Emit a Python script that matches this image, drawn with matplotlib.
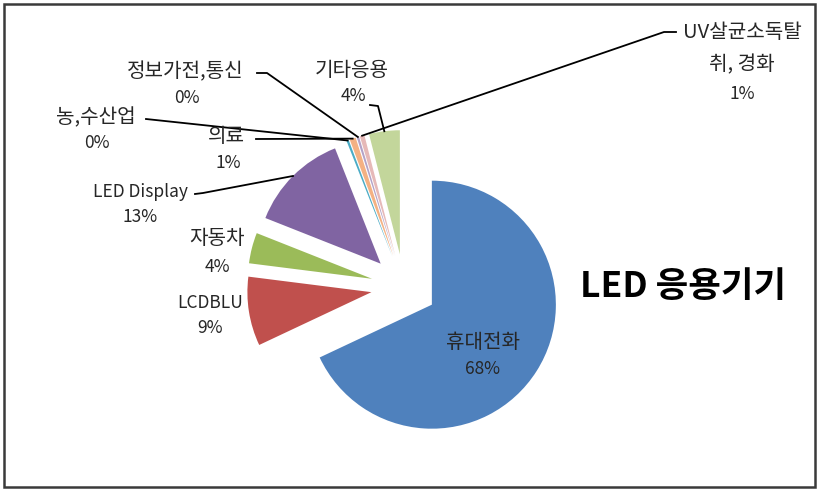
import matplotlib
matplotlib.use('Agg')
import matplotlib.pyplot as plt
from matplotlib.patches import Rectangle
import numpy as np

plt.rcParams['font.family'] = ['Noto Sans CJK KR', 'DejaVu Sans']

# data: LED application share (%), clockwise from 12 o'clock
names = ['휴대전화', 'LCDBLU', '자동차', 'LED Display', '농,수산업', '의료',
         '정보가전,통신', 'UV살균소독탈\n취, 경화', '기타응용']
shares = [68.0, 9.0, 4.0, 13.0, 0.3, 0.8, 0.3, 0.6, 4.0]
colors = ['#4F81BD', '#C0504D', '#9BBB59', '#8064A2', '#4BACC6', '#F4B183',
          '#B3A2C7', '#E6B9B8', '#C3D69B']

W, H = 819, 492
fig = plt.figure(figsize=(W / 100, H / 100), dpi=100)
ax = fig.add_axes([0, 0, 1, 1])

# pixel-like coordinates, y grows downwards -> counterclock in data is clockwise on screen
center = (404, 287)
radius = 124
wedges, _ = ax.pie(shares, colors=colors, startangle=-90, counterclock=True,
                   radius=radius, center=center, explode=[33] * len(shares),
                   wedgeprops=dict(linewidth=0))
ax.set_xlim(0, W)
ax.set_ylim(H, 0)
ax.set_aspect('equal')
ax.axis('off')

# label positions (name line, percent line) and leader start/elbow points
name_pos = [(483, 342), (210, 303), (217, 239), (140, 192), (96, 118),
            (226, 137), (185, 72), (742, 49), (352, 71)]
pct_pos = [(483, 369), (210, 328), (217, 267), (140, 217), (97, 143),
           (228, 163), (187, 98), (742, 94), (353, 96)]
leaders = {
    3: [(195, 194), (203, 193)],
    4: [(146, 119)],
    5: [(256, 139)],
    6: [(257, 73), (267, 73)],
    7: [(676, 32), (664, 32)],
    8: [(370, 105), (378, 106)],
}

txt_color = '#262626'
for i, (name, val) in enumerate(zip(names, shares)):
    hangul = any('\uac00' <= ch <= '\ud7a3' for ch in name)
    ax.text(name_pos[i][0], name_pos[i][1], name, ha='center', va='center',
            fontsize=14.5 if hangul else 12.5, color=txt_color, linespacing=1.7)
    ax.text(pct_pos[i][0], pct_pos[i][1], '%d%%' % round(val), ha='center',
            va='center', fontsize=12.5, color=txt_color)
    if i in leaders:
        w = wedges[i]
        tm = np.deg2rad((w.theta1 + w.theta2) / 2)
        cx, cy = w.center
        end = (cx + w.r * np.cos(tm), cy + w.r * np.sin(tm))
        pts = leaders[i] + [end]
        ax.plot([p[0] for p in pts], [p[1] for p in pts], color='black', lw=1.3)

ax.text(683, 287, 'LED 응용기기', ha='center', va='center', fontsize=25.5,
        fontweight='bold', color='black')

ax.add_patch(Rectangle((4, 4), 811, 483, fill=False, edgecolor='#3a3a3a', lw=1.8))

fig.savefig('out.png', dpi=100)
